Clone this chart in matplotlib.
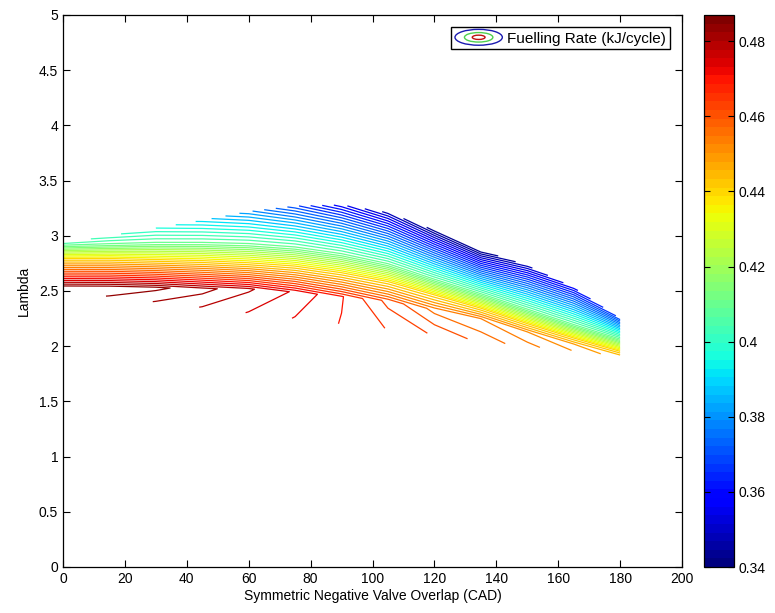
import numpy as np
import matplotlib
matplotlib.use("agg")
import matplotlib.pyplot as plt
from matplotlib.colors import Normalize
from matplotlib.cm import ScalarMappable
from matplotlib.patches import Ellipse
from matplotlib.lines import Line2D
from matplotlib.legend_handler import HandlerBase

plt.rcParams['font.family'] = ['Liberation Sans', 'DejaVu Sans']
plt.rcParams['font.size'] = 10

# NVO stations (CAD)
nvo = [0, 15, 30, 45, 60, 75, 90, 105, 120, 135, 150, 165, 180]

# lambda of the mapped region at each NVO station
lam_bottom = [2.50, 2.45, 2.40, 2.35, 2.30, 2.25, 2.20, 2.16, 2.11, 2.05, 2.00, 1.96, 1.91]
lam_ridge = [2.53, 2.53, 2.53, 2.52, 2.52, 2.49, 2.45, 2.41, 2.33, 2.25, 2.13, 2.02, 1.92]
lam_044 = [2.79, 2.79, 2.78, 2.77, 2.75, 2.72, 2.66, 2.58, 2.46, 2.34, 2.20, 2.07, 1.95]
lam_041 = [2.91, 2.92, 2.93, 2.93, 2.92, 2.89, 2.83, 2.74, 2.60, 2.47, 2.33, 2.19, 2.06]
lam_top = [2.93, 3.00, 3.07, 3.14, 3.22, 3.27, 3.28, 3.21, 3.05, 2.87, 2.73, 2.53, 2.25]

# fuelling rate (kJ/cycle) along those rows
fuel_bottom = [0.4865, 0.4838, 0.4808, 0.4778, 0.4748, 0.4718, 0.4688, 0.4658,
               0.4625, 0.4590, 0.4552, 0.4508, 0.4460]
fuel_ridge = [0.4868, 0.4865, 0.4848, 0.4822, 0.4785, 0.4745, 0.4693, 0.4620,
              0.4560, 0.4540, 0.4510, 0.4480, 0.4450]
fuel_044 = 0.44
fuel_041 = 0.41
fuel_top = [0.406, 0.401, 0.397, 0.390, 0.380, 0.368, 0.356, 0.348,
            0.342, 0.340, 0.348, 0.357, 0.368]

fuel_min, fuel_max = 0.34, 0.487
levels = np.arange(0.343, 0.4855, 0.003)


class ContourIcon(HandlerBase):
    """Legend key drawn as nested contour rings."""
    def create_artists(self, legend, orig_handle, xdescent, ydescent,
                       width, height, fontsize, trans):
        cx = 0.5 * width - xdescent
        cy = 0.5 * height - ydescent
        rings = []
        for k, col in zip([1.0, 0.6, 0.27], ['#1a1ab0', '#50d050', '#c01010']):
            e = Ellipse((cx, cy), width * k, height * 1.25 * k, fill=False,
                        edgecolor=col, lw=1.0, transform=trans)
            rings.append(e)
        return rings


n = len(nvo)
X = np.tile(np.array(nvo, dtype=float), (5, 1))
Y = np.vstack([lam_bottom, lam_ridge, lam_044, lam_041, lam_top])
Z = np.vstack([fuel_bottom, fuel_ridge, np.full(n, fuel_044),
               np.full(n, fuel_041), fuel_top])

cmap = plt.get_cmap('jet', 64)
norm = Normalize(vmin=fuel_min, vmax=fuel_max)

fig = plt.figure(figsize=(7.75, 6.13), dpi=100)
ax = fig.add_axes([63 / 775, 46 / 613, 619 / 775, 552 / 613])
cax = fig.add_axes([704 / 775, 46 / 613, 30 / 775, 552 / 613])

ax.contour(X, Y, Z, levels=levels, cmap=cmap, norm=norm, linewidths=0.9)

ax.set_xlim(0, 200)
ax.set_ylim(0, 5)
ax.set_xticks(np.arange(0, 201, 20))
ax.set_yticks(np.arange(0, 5.01, 0.5))
ax.set_yticklabels(['%g' % v for v in np.arange(0, 5.01, 0.5)])
ax.tick_params(direction='in', top=True, right=True, length=5, width=0.8)
for s in ax.spines.values():
    s.set_linewidth(0.9)
ax.set_xlabel('Symmetric Negative Valve Overlap (CAD)', labelpad=2)
ax.set_ylabel('Lambda', labelpad=6)

proxy = Line2D([], [])
ax.legend([proxy], ['Fuelling Rate (kJ/cycle)'], handler_map={Line2D: ContourIcon()},
          loc='upper right', bbox_to_anchor=(0.98, 0.978), fontsize=11,
          handlelength=3.1, handleheight=0.9, borderpad=0.25, handletextpad=0.3,
          fancybox=False, framealpha=1, edgecolor='black', borderaxespad=0)

cb = fig.colorbar(ScalarMappable(norm=norm, cmap=cmap), cax=cax)
cb.set_ticks(np.arange(0.34, 0.481, 0.02))
cb.set_ticklabels(['%g' % round(v, 2) for v in np.arange(0.34, 0.481, 0.02)])
cb.ax.tick_params(direction='in', length=4, width=0.8, left=True, right=True)
cb.outline.set_linewidth(0.9)

fig.savefig('out.png', dpi=100)
